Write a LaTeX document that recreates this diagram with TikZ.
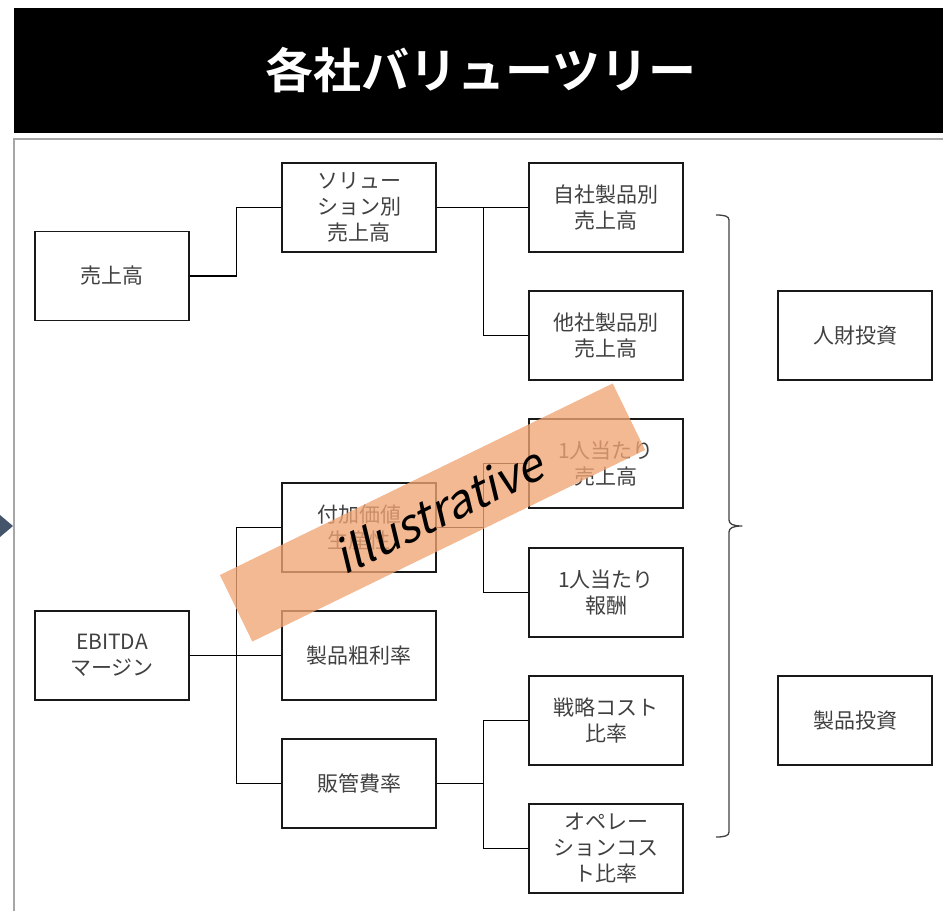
\documentclass[tikz,border=0pt]{standalone}
\usepackage{fontspec}
\newfontfamily\jp{Noto Sans CJK JP}
\newfontfamily\jpbold{Noto Sans CJK JP Bold}
\newfontfamily\illfont[FakeSlant=0.22]{Noto Sans CJK JP}
\definecolor{boxtext}{RGB}{64,64,64}
\definecolor{framegray}{RGB}{166,166,166}
\definecolor{arrowblue}{RGB}{68,84,106}
\definecolor{bandorange}{RGB}{240,165,115}
\definecolor{bracegray}{RGB}{64,64,64}
\tikzset{
  vbox/.style={draw=black!90, line width=1.3pt, minimum width=154pt, minimum height=89pt,
    inner sep=0pt, align=center, text=boxtext, font=\jp\fontsize{21}{26}\selectfont},
  conn/.style={draw=black, line width=1.2pt},
  framel/.style={draw=framegray, line width=1.5pt},
}
\begin{document}
\begin{tikzpicture}[x=1pt,y=-1pt]
\useasboundingbox (0,0) rectangle (943,911);
% banner
\fill[black] (14,8) rectangle (943,133);
\node[text=white, font=\jpbold\fontsize{48}{52}\selectfont] (title) at (481,70) {各社バリューツリー};
% frame
\draw[framel] (14,911) -- (14,139) -- (943,139);
\fill[arrowblue] (0,515) -- (13,526) -- (0,537) -- cycle;
% boxes
\node[vbox] (uri) at (112,276) {売上高};
\node[vbox] (sol) at (359,207.5) {ソリュー\\ション別\\売上高};
\node[vbox] (jisha) at (606,207.5) {自社製品別\\売上高};
\node[vbox] (tasha) at (606,335.5) {他社製品別\\売上高};
\node[vbox] (ppsales) at (606,463.5) {1人当たり\\売上高};
\node[vbox] (pppay) at (606,592.5) {1人当たり\\報酬};
\node[vbox] (senryaku) at (606,720.5) {戦略コスト\\比率};
\node[vbox] (ope) at (606,848.5) {オペレー\\ションコス\\ト比率};
\node[vbox] (fuka) at (359,527.5) {付加価値\\生産性};
\node[vbox] (arari) at (359,655.5) {製品粗利率};
\node[vbox] (hankan) at (359,783.5) {販管費率};
\node[vbox] (ebitda) at (112,655.5) {EBITDA\\マージン};
\node[vbox] (jinzai) at (855,335.5) {人財投資};
\node[vbox] (seihin) at (855,720.5) {製品投資};
% connectors
\draw[conn] (uri.east) -- ++(47,0) |- (sol.west);
\draw[conn] (sol.east) -- ++(47,0) |- (jisha.west);
\draw[conn] (sol.east) -- ++(47,0) |- (tasha.west);
\draw[conn] (ebitda.east) -- ++(47,0) |- (fuka.west);
\draw[conn] (ebitda.east) -- ++(47,0) |- (arari.west);
\draw[conn] (ebitda.east) -- ++(47,0) |- (hankan.west);
\draw[conn] (fuka.east) -- ++(47,0) |- (ppsales.west);
\draw[conn] (fuka.east) -- ++(47,0) |- (pppay.west);
\draw[conn] (hankan.east) -- ++(47,0) |- (senryaku.west);
\draw[conn] (hankan.east) -- ++(47,0) |- (ope.west);
% brace
\draw[bracegray, line width=1.3pt, line join=round]
  (716,215) .. controls (724,215) and (729,216) .. (729,220) -- (729,520)
  .. controls (729,524) and (733,526) .. (742,526)
  .. controls (733,526) and (729,528) .. (729,532) -- (729,832)
  .. controls (729,836) and (724,837) .. (716,837);
% illustrative stamp
\node[fill=bandorange, fill opacity=0.78, rotate=26, minimum width=437pt, minimum height=74pt, inner sep=0pt] (band) at (432.5,512.5) {};
\node[rotate=26, text=black, font=\illfont\fontsize{46}{50}\selectfont, inner sep=0pt] (ill) at (438,510) {illustrative};
\end{tikzpicture}
\end{document}
